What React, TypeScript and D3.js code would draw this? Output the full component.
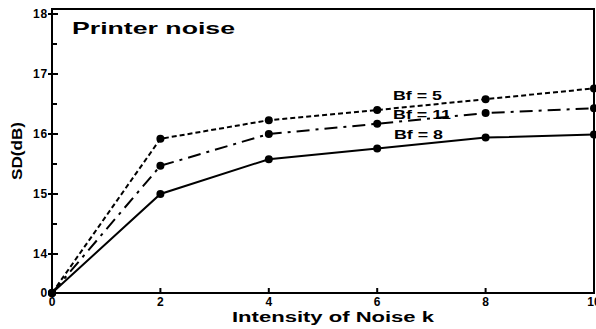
import React from "react";
import * as d3 from "d3";

const xValues = [0, 2, 4, 6, 8, 10];
const bf5 = [0, 15.92, 16.23, 16.4, 16.58, 16.76];
const bf11 = [0, 15.47, 16.0, 16.17, 16.35, 16.43];
const bf8 = [0, 15.0, 15.58, 15.76, 15.94, 15.99];
const yTicks = [0, 14, 15, 16, 17, 18];
const yMinor = [14.5, 15.5, 16.5, 17.5];
const xTicks = [0, 2, 4, 6, 8, 10];
const seriesNames = ["Bf = 5", "Bf = 11", "Bf = 8"];

export default function App() {
  const W = 596, H = 329;
  const left = 52, right = 594, top = 9, bottom = 293;
  const x = d3.scaleLinear().domain([0, 10]).range([left, right]);
  // broken axis: 0 sits just below 14
  const y = d3.scaleLinear().domain([0, 14, 18]).range([293, 254, 14]);
  const line = d3.line<[number, number]>().x(d => x(d[0])).y(d => y(d[1]));
  const series = [
    { name: seriesNames[0], data: bf5, dash: "5,3", lx: 393, ly: 100, len: 49 },
    { name: seriesNames[1], data: bf11, dash: "13,6,3,6", lx: 393, ly: 119, len: 58 },
    { name: seriesNames[2], data: bf8, dash: "", lx: 394, ly: 139, len: 49 },
  ];
  const font = "'Liberation Sans', Arial, sans-serif";
  return (
    <svg width={W} height={H} style={{ position: "absolute", left: 0, top: 0, background: "#fff" }} fontFamily={font}>
      <rect x={left} y={top} width={right - left} height={bottom - top} fill="none" stroke="#000" strokeWidth={2} />
      {yTicks.map(t => (
        <g key={t}>
          <line x1={left - 4} x2={left + 6} y1={y(t)} y2={y(t)} stroke="#000" strokeWidth={2} />
          <text x={left - 4} y={y(t) + 4} textAnchor="end" fontSize={12} fontWeight="bold" letterSpacing={0.8}>{t}</text>
        </g>
      ))}
      {yMinor.map(t => (
        <line key={t} x1={left} x2={left + 5} y1={y(t)} y2={y(t)} stroke="#000" strokeWidth={2} />
      ))}
      {xTicks.map(t => (
        <g key={t}>
          <line x1={x(t)} x2={x(t)} y1={bottom} y2={bottom - 5} stroke="#000" strokeWidth={2} />
          <text x={x(t)} y={bottom + 13} textAnchor="middle" fontSize={12} fontWeight="bold">{t}</text>
        </g>
      ))}
      {series.map(s => {
        const pts = xValues.map((v, i) => [v, s.data[i]] as [number, number]);
        return (
          <g key={s.name}>
            <path d={line(pts) || ""} fill="none" stroke="#000" strokeWidth={2} strokeDasharray={s.dash || undefined} />
            {pts.map((p, i) => (
              <circle key={i} cx={x(p[0])} cy={y(p[1])} r={4} fill="#000" />
            ))}
            <text x={s.lx} y={s.ly} fontSize={12} fontWeight="bold" textLength={s.len} lengthAdjust="spacingAndGlyphs">{s.name}</text>
          </g>
        );
      })}
      <text x={72} y={34} fontSize={17} fontWeight="bold" textLength={163} lengthAdjust="spacingAndGlyphs">Printer noise</text>
      <text transform={`translate(22,151) rotate(-90)`} textAnchor="middle" fontSize={15} fontWeight="bold" textLength={58} lengthAdjust="spacingAndGlyphs">SD(dB)</text>
      <text x={232} y={322} fontSize={14} fontWeight="bold" textLength={202} lengthAdjust="spacingAndGlyphs">Intensity of Noise k</text>
    </svg>
  );
}
